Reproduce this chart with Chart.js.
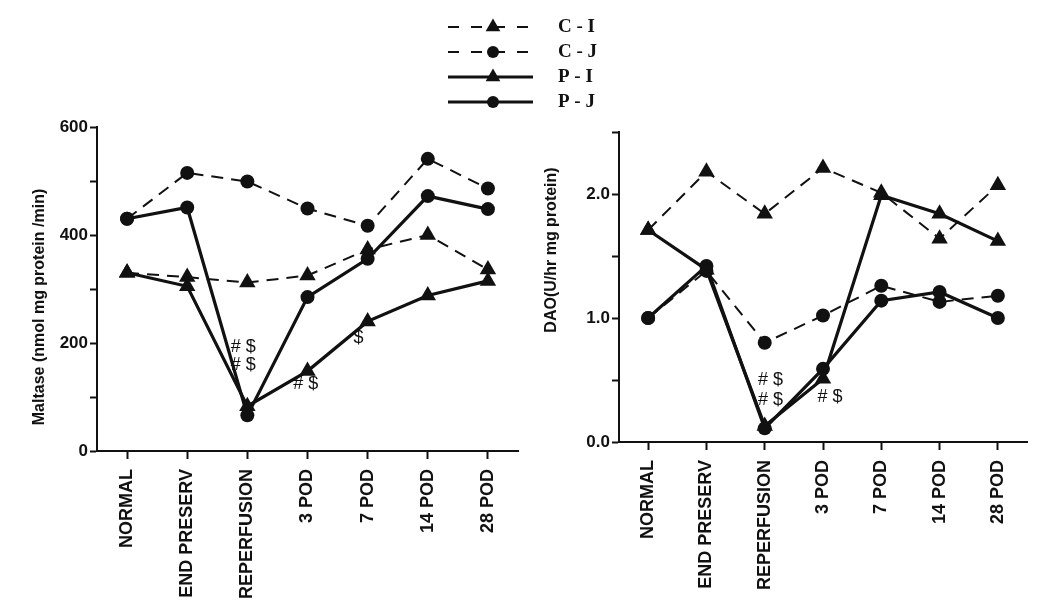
<!DOCTYPE html>
<html>
<head>
<meta charset="utf-8">
<script src="https://cdn.jsdelivr.net/npm/chart.js@4.4.1/dist/chart.umd.min.js"></script>
<style>
  html, body { margin: 0; padding: 0; background: #fff; }
  #page { position: relative; width: 1050px; height: 614px; overflow: hidden; }
  .panel { position: absolute; top: 0; }
  #leftWrap { left: 0; }
  #rightWrap { left: 535px; }
  #legend { position: absolute; left: 0; top: 0; }
</style>
</head>
<body>
<div id="page">
  <div class="panel" id="leftWrap"><canvas id="maltase" width="535" height="614"></canvas></div>
  <div class="panel" id="rightWrap"><canvas id="dao" width="515" height="614"></canvas></div>
  <canvas id="legend" width="1050" height="120"></canvas>
</div>
<script>
// categories on the x axis (same for both panels)
const categories = ['NORMAL', 'END PRESERV', 'REPERFUSION', '3 POD', '7 POD', '14 POD', '28 POD'];

// Maltase (nmol mg protein /min)
const maltaseCI = [330, 322, 312, 325, 373, 400, 336];
const maltaseCJ = [430, 515, 499, 449, 417, 541, 486];
const maltasePI = [330, 305, 83, 148, 240, 288, 315];
const maltasePJ = [430, 451, 66, 285, 356, 472, 448];

// DAO (U/hr mg protein)
const daoCI = [1.71, 2.18, 1.84, 2.21, 2.01, 1.64, 2.07];
const daoCJ = [1.00, 1.38, 0.80, 1.02, 1.26, 1.13, 1.18];
const daoPI = [1.71, 1.39, 0.13, 0.51, 1.99, 1.84, 1.62];
const daoPJ = [1.00, 1.42, 0.11, 0.59, 1.14, 1.21, 1.00];

// significance marks: category position, value, text
const maltaseMarks = [
  { at: 1.93, value: 193, text: '# $' },
  { at: 1.93, value: 159, text: '# $' },
  { at: 2.97, value: 124, text: '# $' },
  { at: 3.85, value: 209, text: '$' }
];
const daoMarks = [
  { at: 2.1, value: 0.50, text: '# $' },
  { at: 2.1, value: 0.34, text: '# $' },
  { at: 3.12, value: 0.36, text: '# $' }
];

const seriesNames = ['C - I', 'C - J', 'P - I', 'P - J'];

const INK = '#111';
Chart.defaults.font.family = '"Liberation Sans", Arial, sans-serif';
Chart.defaults.color = INK;

// line style per group
const styles = {
  'C - I': { dash: [12, 8], width: 2, point: 'triangle', radius: 9.5 },
  'C - J': { dash: [12, 8], width: 2, point: 'circle', radius: 7 },
  'P - I': { dash: [], width: 3.2, point: 'triangle', radius: 9.5 },
  'P - J': { dash: [], width: 3.2, point: 'circle', radius: 7 }
};

function makeDataset(name, values) {
  const s = styles[name];
  return {
    label: name,
    data: values,
    borderColor: INK,
    backgroundColor: INK,
    borderWidth: s.width,
    borderDash: s.dash,
    pointStyle: s.point,
    pointRadius: s.radius,
    pointBackgroundColor: INK,
    pointBorderWidth: 0,
    tension: 0,
    fill: false
  };
}

// draws the significance marks at data positions
const marksPlugin = {
  id: 'marks',
  afterDatasetsDraw(chart, args, opts) {
    const ctx = chart.ctx;
    ctx.save();
    ctx.fillStyle = INK;
    ctx.font = '18px "Liberation Sans", Arial, sans-serif';
    ctx.textAlign = 'center';
    ctx.textBaseline = 'middle';
    (opts.items || []).forEach(m => {
      const x = chart.scales.x.getPixelForValue(m.at);
      const y = chart.scales.y.getPixelForValue(m.value);
      ctx.fillText(m.text, x, y);
    });
    ctx.restore();
  }
};

// vertical axis caption
const captionPlugin = {
  id: 'caption',
  afterDraw(chart, args, opts) {
    const ctx = chart.ctx;
    ctx.save();
    ctx.translate(opts.x, opts.y);
    ctx.rotate(-Math.PI / 2);
    ctx.fillStyle = INK;
    ctx.font = 'bold 16px "Liberation Sans", Arial, sans-serif';
    ctx.textAlign = 'center';
    ctx.textBaseline = 'middle';
    ctx.fillText(opts.text, 0, 0);
    ctx.restore();
  }
};

function makeOptions(cfg) {
  return {
    responsive: false,
    animation: false,
    devicePixelRatio: 1,
    layout: { padding: { top: cfg.top, right: cfg.right, left: 0, bottom: 0 } },
    plugins: {
      legend: { display: false },
      tooltip: { enabled: false },
      marks: { items: cfg.marks },
      caption: { text: cfg.title, x: cfg.titleX, y: cfg.titleY }
    },
    scales: {
      x: {
        offset: true,
        grid: { display: true, drawOnChartArea: false, drawTicks: true, tickLength: 8, tickWidth: 2, tickColor: INK, offset: false },
        border: { display: true, color: INK, width: 2 },
        ticks: {
          autoSkip: false, maxRotation: 90, minRotation: 90, padding: 10,
          font: { size: 18, weight: 'bold' }, color: INK
        },
        afterFit(scale) { scale.height = cfg.xHeight; }
      },
      y: {
        min: 0,
        max: cfg.yMax,
        grid: { display: true, drawOnChartArea: false, drawTicks: true, tickLength: 7, tickWidth: 2, tickColor: INK },
        border: { display: true, color: INK, width: 2 },
        ticks: {
          stepSize: cfg.yStep,
          padding: 2,
          font: { size: 17, weight: 'bold' }, color: INK,
          callback: v => {
            const k = v / cfg.labelStep;
            return Math.abs(k - Math.round(k)) < 1e-6 ? v.toFixed(cfg.decimals) : '';
          }
        },
        afterFit(scale) { scale.width = cfg.yWidth; }
      }
    }
  };
}

new Chart(document.getElementById('maltase'), {
  type: 'line',
  data: {
    labels: categories,
    datasets: [
      makeDataset('C - I', maltaseCI),
      makeDataset('C - J', maltaseCJ),
      makeDataset('P - I', maltasePI),
      makeDataset('P - J', maltasePJ)
    ]
  },
  options: makeOptions({
    top: 127, right: 17, yWidth: 97, xHeight: 163,
    yMax: 600, yStep: 100, labelStep: 200, decimals: 0,
    marks: maltaseMarks,
    title: 'Maltase (nmol mg protein /min)', titleX: 40, titleY: 307
  }),
  plugins: [marksPlugin, captionPlugin]
});

new Chart(document.getElementById('dao'), {
  type: 'line',
  data: {
    labels: categories,
    datasets: [
      makeDataset('C - I', daoCI),
      makeDataset('C - J', daoCJ),
      makeDataset('P - I', daoPI),
      makeDataset('P - J', daoPJ)
    ]
  },
  options: makeOptions({
    top: 132, right: 23, yWidth: 84, xHeight: 172,
    yMax: 2.5, yStep: 0.5, labelStep: 1, decimals: 1,
    marks: daoMarks,
    title: 'DAO(U/hr mg protein)', titleX: 17, titleY: 250
  }),
  plugins: [marksPlugin, captionPlugin]
});

// shared legend, drawn between the two panels
(function drawLegend() {
  const ctx = document.getElementById('legend').getContext('2d');
  ctx.fillStyle = INK;
  ctx.strokeStyle = INK;
  ctx.font = 'bold 19px "Liberation Serif", "Times New Roman", serif';
  ctx.textBaseline = 'middle';
  seriesNames.forEach((name, i) => {
    const s = styles[name];
    const y = 27 + i * 25;
    ctx.save();
    ctx.lineWidth = s.width;
    ctx.setLineDash(s.dash.length ? [11, 12] : []);
    ctx.beginPath();
    ctx.moveTo(448, y);
    ctx.lineTo(533, y);
    ctx.stroke();
    ctx.restore();
    Chart.helpers.drawPoint(ctx, { pointStyle: s.point, rotation: 0, radius: s.radius - 1, borderWidth: 0 }, 493, y);
    ctx.fillText(name, 558, y);
  });
})();
</script>
</body>
</html>
